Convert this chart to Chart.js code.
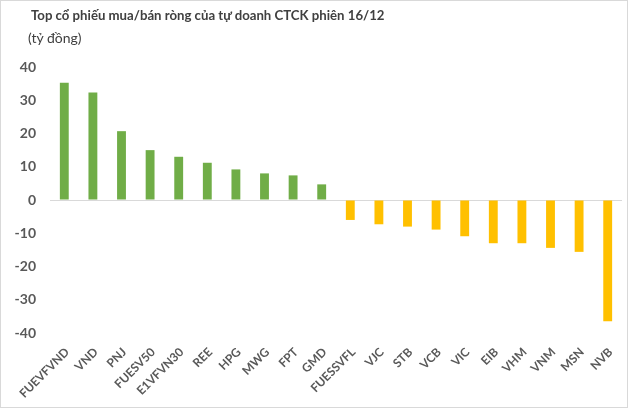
<!DOCTYPE html>
<html>
<head>
<meta charset="utf-8">
<script src="https://cdn.jsdelivr.net/npm/chart.js@4"></script>
<style>
  body { margin: 0; background: #fff; }
  #wrap { position: relative; width: 630px; height: 409px; }
  #frame { position: absolute; left: 0; top: 0; width: 626px; height: 406px; border: 1px solid #d9d9d9; pointer-events: none; }
  #title { position: absolute; left: 31px; top: 7px; font: bold 13.2px Lato, sans-serif; color: #404040; white-space: nowrap; }
  #sub { position: absolute; left: 28px; top: 29px; font: 14px Lato, sans-serif; color: #404040; }
  canvas { position: absolute; left: 0; top: 0; }
</style>
</head>
<body>
<div id="wrap">
  <canvas id="chart" width="630" height="409"></canvas>
  <div id="title">Top cổ phiếu mua/bán ròng của tự doanh CTCK phiên 16/12</div>
  <div id="sub">(tỷ đồng)</div>
  <div id="frame"></div>
</div>
<script>
const tickers = ["FUEVFVND", "VND", "PNJ", "FUESV50", "E1VFVN30", "REE", "HPG", "MWG", "FPT", "GMD",
  "FUESSVFL", "VJC", "STB", "VCB", "VIC", "EIB", "VHM", "VNM", "MSN", "NVB"];
const netValues = [35.3, 32.3, 20.7, 15.0, 13.0, 11.2, 9.2, 8.0, 7.4, 4.7,
  -6.0, -7.3, -8.0, -8.9, -10.9, -13.0, -13.0, -14.4, -15.6, -36.5];
const yTicks = [40, 30, 20, 10, 0, -10, -20, -30, -40];

// mua ròng màu xanh, bán ròng màu vàng
const barColors = netValues.map(v => v >= 0 ? "#70AD47" : "#FFC000");

const ctx = document.getElementById("chart").getContext("2d");
const chart = new Chart(ctx, {
  type: "bar",
  data: {
    labels: tickers,
    datasets: [{
      data: netValues,
      backgroundColor: barColors,
      barPercentage: 0.31,
      categoryPercentage: 1
    }]
  },
  options: {
    responsive: false,
    animation: false,
    layout: { padding: { top: 67, right: 8, bottom: 4, left: 0 } },
    plugins: { legend: { display: false }, tooltip: { enabled: false } },
    scales: {
      x: {
        grid: { display: false },
        border: { display: false },
        ticks: {
          color: "#595959",
          font: { family: "Lato", size: 12, weight: "bold" },
          minRotation: 45,
          maxRotation: 45,
          autoSkip: false,
          padding: 4,
          labelOffset: 3
        },
        afterFit: s => { s.height = 72; }
      },
      y: {
        min: -40,
        max: 40,
        afterBuildTicks: s => { s.ticks = yTicks.map(v => ({ value: v })); },
        grid: {
          drawTicks: false,
          color: c => c.tick && c.tick.value === 0 ? "#d9d9d9" : "transparent",
          lineWidth: 1
        },
        border: { display: false },
        ticks: {
          color: "#595959",
          font: { family: "Lato", size: 14, weight: "bold" },
          padding: 14
        },
        afterFit: s => { s.width = 50; }
      }
    }
  }
});
</script>
</body>
</html>
